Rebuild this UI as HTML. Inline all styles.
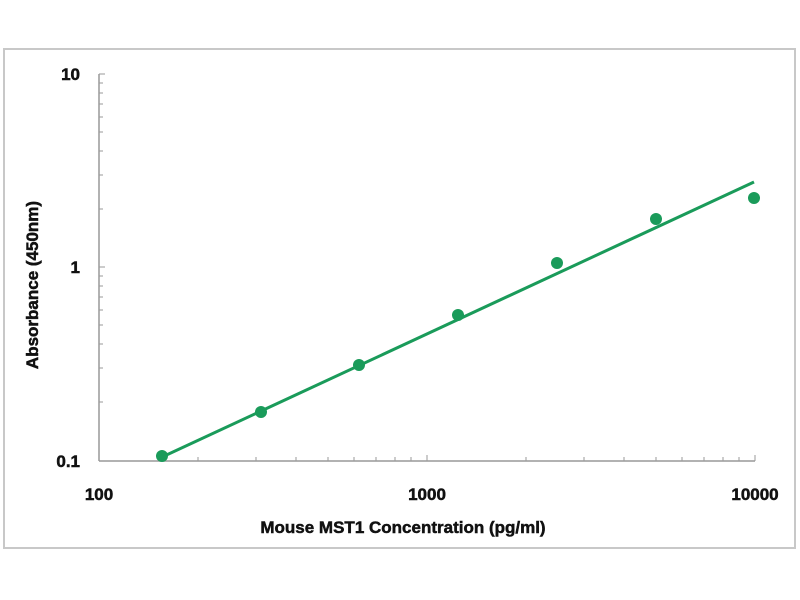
<!DOCTYPE html>
<html><head><style>body{margin:0;background:#fff}svg{display:block}</style></head><body>
<svg width="800" height="600" xmlns="http://www.w3.org/2000/svg" font-family="Liberation Sans, Arial, sans-serif">
<rect x="4" y="49" width="791" height="499" fill="#fff" stroke="#c8c8c8" stroke-width="2"/>
<g stroke="#999" stroke-width="1.5" fill="none">
<line x1="99" y1="74" x2="99" y2="461"/>
<line x1="99" y1="461" x2="755" y2="461"/>
</g>
<g stroke="#999" stroke-width="1">
<path d="
M99 74h6 M99 267h6 M99 461h6
M99 209h4 M99 175h4 M99 151h4 M99 132h4 M99 117h4 M99 104h4 M99 93h4 M99 83h4
M99 402h4 M99 368h4 M99 344h4 M99 325h4 M99 310h4 M99 297h4 M99 286h4 M99 276h4
M198 461v-4 M256 461v-4 M296 461v-4 M328 461v-4 M354 461v-4 M376 461v-4 M395 461v-4 M411 461v-4 M427 461v-6
M526 461v-4 M584 461v-4 M624 461v-4 M656 461v-4 M682 461v-4 M704 461v-4 M723 461v-4 M739 461v-4 M755 461v-6"/>
</g>
<line x1="160" y1="458" x2="754" y2="182" stroke="#1a9b5a" stroke-width="3"/>
<g fill="#1a9b5a">
<circle cx="162" cy="456" r="6"/><circle cx="261" cy="412" r="6"/><circle cx="359" cy="365" r="6"/>
<circle cx="458" cy="315" r="6"/><circle cx="557" cy="263" r="6"/><circle cx="656" cy="219" r="6"/>
<circle cx="754" cy="198" r="6"/>
</g>
<g font-weight="bold" font-size="17" fill="#111" stroke="#111" stroke-width="0.5">
<text x="80" y="80" text-anchor="end">10</text>
<text x="80" y="273" text-anchor="end">1</text>
<text x="80" y="467" text-anchor="end">0.1</text>
<text x="99" y="500" text-anchor="middle">100</text>
<text x="427" y="500" text-anchor="middle">1000</text>
<text x="755" y="500" text-anchor="middle">10000</text>
<text x="403" y="533" text-anchor="middle">Mouse MST1  Concentration (pg/ml)</text>
<text transform="translate(38,285) rotate(-90)" text-anchor="middle">Absorbance (450nm)</text>
</g>
</svg>
</body></html>
